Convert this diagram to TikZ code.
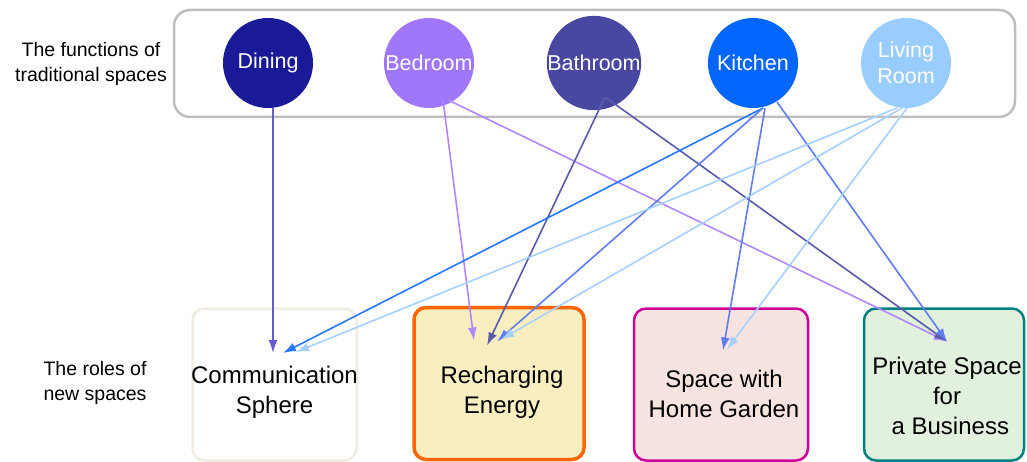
\documentclass[tikz,border=0pt]{standalone}
\usepackage{fontspec}
\setmainfont{Liberation Sans}
\usetikzlibrary{arrows.meta,calc}
\definecolor{cDin}{RGB}{26,26,153}
\definecolor{cBed}{RGB}{160,118,250}
\definecolor{cBat}{RGB}{72,72,160}
\definecolor{cKit}{RGB}{0,102,255}
\definecolor{cLiv}{RGB}{153,204,255}
\definecolor{lDin}{RGB}{100,90,210}
\definecolor{lBed}{RGB}{175,135,255}
\definecolor{lBat}{RGB}{90,90,170}
\definecolor{lKitA}{RGB}{40,120,255}
\definecolor{lKit}{RGB}{95,125,240}
\definecolor{lLiv}{RGB}{165,208,255}
\definecolor{frameGray}{RGB}{190,190,190}
\definecolor{commB}{RGB}{240,236,224}
\definecolor{rechB}{RGB}{255,102,0}
\definecolor{rechF}{RGB}{248,238,192}
\definecolor{gardB}{RGB}{204,0,153}
\definecolor{gardF}{RGB}{247,228,224}
\definecolor{privB}{RGB}{0,128,128}
\definecolor{privF}{RGB}{226,240,222}
\tikzset{
  funcframe/.style={draw=frameGray,line width=2.5pt,rounded corners=16pt,minimum width=841pt,minimum height=107pt,inner sep=0pt},
  func/.style={circle,fill=#1,minimum size=90pt,inner sep=0pt,text=white,align=center,font=\fontsize{21.5}{26}\selectfont},
  rolebox/.style={draw=#1,rounded corners=12pt,inner sep=0pt,minimum height=152pt},
  roletext/.style={align=center,font=\fontsize{24}{30}\selectfont,inner sep=0pt},
  sidetext/.style={align=center,font=\fontsize{19.5}{25}\selectfont,inner sep=0pt},
  conn/.style={draw=#1,line width=1.6pt,-{Latex[length=13pt,width=9pt]}},
}
\begin{document}
\begin{tikzpicture}[x=1pt,y=-1pt]
\useasboundingbox (0,0) rectangle (1027,462);
% frame of traditional functions
\node[funcframe] (frame) at (594.5,63.5) {};
\node[sidetext] (lblfunc) at (91,64) {The functions of\\traditional spaces};
\node[sidetext] (lblrole) at (95,383) {The roles of\\new spaces};
% circles
\node[func=cDin] (din) at (268,63) {Dining};
\node[func=cBed] (bed) at (429,63) {Bedroom};
\node[func=cBat] (bat) at (594,63) {Bathroom};
\node[func=cKit] (kit) at (753,63) {Kitchen};
\node[func=cLiv] (liv) at (906,63) {Living\\Room};
% role boxes
\node[rolebox=commB,line width=2.5pt,fill=white,minimum width=164pt] (comm) at (274.5,384.5) {};
\node[rolebox=rechB,line width=3.5pt,fill=rechF,minimum width=170pt] (rech) at (499,383.5) {};
\node[rolebox=gardB,line width=2.5pt,fill=gardF,minimum width=174pt] (gard) at (721,384.5) {};
\node[rolebox=privB,line width=2.5pt,fill=privF,minimum width=160pt] (priv) at (944,384.5) {};
\node[roletext] (commt) at ($(comm)+(0,8)$) {Communication\\Sphere};
\node[roletext] (recht) at ($(rech)+(3,9)$) {Recharging\\Energy};
\node[roletext] (gardt) at ($(gard)+(3,9)$) {Space with\\Home Garden};
\node[roletext] (privt) at ($(priv)+(3,11)$) {Private Space\\for\\\ a Business};
% connectors
\draw[conn=lDin] ($(din)+(5,45)$) -- ($(comm)+(-1.5,-31.5)$);
\draw[conn=lBed] ($(bed)+(14,37)$) -- ($(rech)+(-25,-43)$);
\draw[conn=lBed] ($(bed)+(19,37)$) -- ($(priv)+(3,-43)$);
\draw[conn=lBat] ($(bat)+(11,34)$) -- ($(rech)+(-12,-38)$);
\draw[conn=lBat] ($(bat)+(11,34)$) -- ($(priv)+(3,-43)$);
\draw[conn=lKitA] ($(kit)+(10,45)$) -- ($(comm)+(8.5,-31.5)$);
\draw[conn=lKit] ($(kit)+(10,45)$) -- ($(rech)+(-2,-42)$);
\draw[conn=lKit] ($(kit)+(12,45)$) -- ($(gard)+(2,-34)$);
\draw[conn=lKit] ($(kit)+(24,39)$) -- ($(priv)+(3,-43)$);
\draw[conn=lLiv] ($(liv)+(-9,45)$) -- ($(comm)+(21.5,-32.5)$);
\draw[conn=lLiv] ($(liv)+(-4,45)$) -- ($(rech)+(2,-44)$);
\draw[conn=lLiv] ($(liv)+(1,45)$) -- ($(gard)+(6,-35)$);
\end{tikzpicture}
\end{document}
